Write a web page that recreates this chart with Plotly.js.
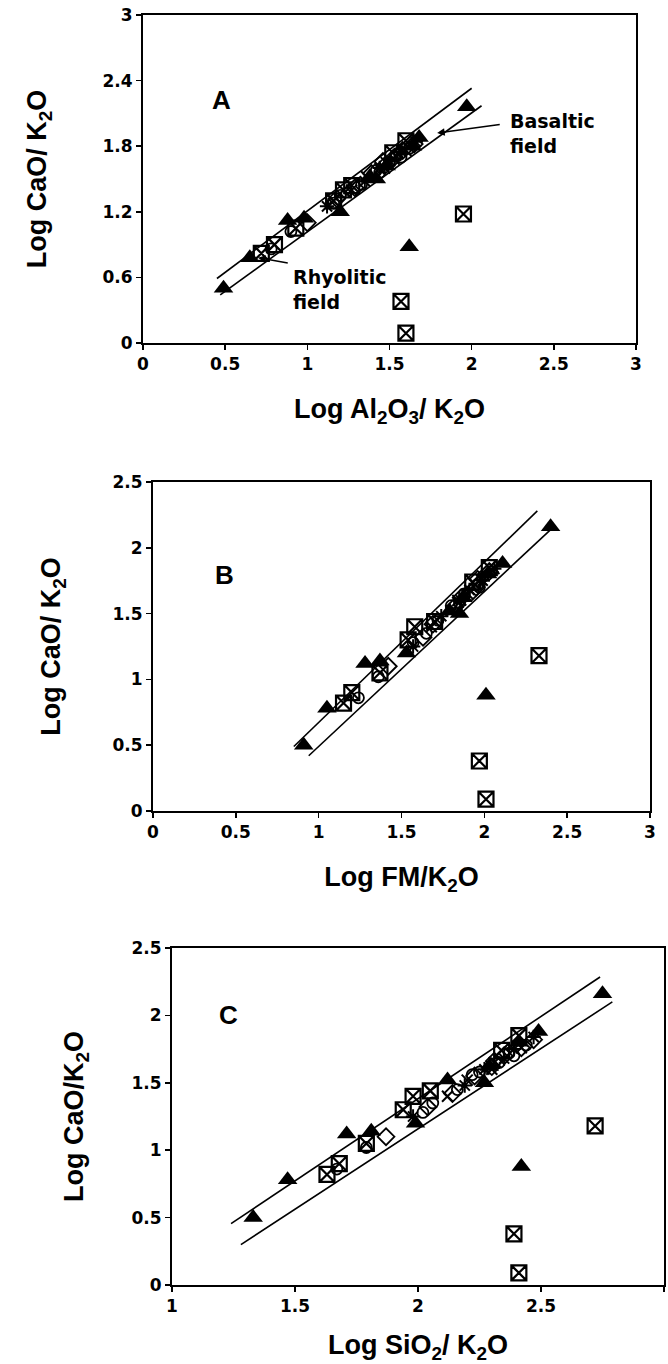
<!DOCTYPE html>
<html>
<head>
<meta charset="utf-8">
<script src="https://cdn.plot.ly/plotly-3.0.1.min.js"></script>
<style>html,body{margin:0;padding:0;background:#fff;}#chart{width:668px;height:1364px;}</style>
</head>
<body>
<div id="chart"></div>
<script>
// ---------- DATA ----------
// y values (Log CaO/K2O) are shared by the three panels; x differs per panel
// Filled triangles
const triY  = [0.50, 0.78, 1.12, 1.14, 1.20, 1.50, 1.52, 1.62, 1.80, 1.88, 2.16, 0.88];
const triXA = [0.49, 0.65, 0.88, 0.98, 1.20, 1.42, 1.38, 1.48, 1.64, 1.68, 1.97, 1.62];
const triXB = [0.91, 1.05, 1.28, 1.37, 1.53, 1.85, 1.79, 1.87, 2.02, 2.11, 2.40, 2.01];
const triXC = [1.33, 1.47, 1.71, 1.81, 1.99, 2.27, 2.12, 2.29, 2.41, 2.49, 2.75, 2.42];
// Boxed crosses
const sqY  = [0.82, 0.90, 1.05, 1.30, 1.40, 1.44, 1.74, 1.85, 1.18, 0.38, 0.09];
const sqXA = [0.72, 0.80, 0.93, 1.16, 1.22, 1.27, 1.52, 1.60, 1.95, 1.57, 1.60];
const sqXB = [1.15, 1.20, 1.37, 1.54, 1.58, 1.70, 1.93, 2.03, 2.33, 1.97, 2.01];
const sqXC = [1.63, 1.68, 1.79, 1.94, 1.98, 2.05, 2.34, 2.41, 2.72, 2.39, 2.41];
// Open circles
const circY  = [0.86, 1.02, 1.28, 1.35, 1.45, 1.58, 1.65, 1.72, 1.78, 1.56, 1.70];
const circXA = [0.78, 0.90, 1.16, 1.20, 1.33, 1.42, 1.50, 1.54, 1.62, 1.44, 1.57];
const circXB = [1.24, 1.36, 1.57, 1.65, 1.72, 1.85, 1.88, 1.96, 1.99, 1.80, 1.97];
const circXC = [1.67, 1.79, 2.02, 2.06, 2.16, 2.25, 2.33, 2.37, 2.44, 2.22, 2.39];
// Open diamonds
const diaY  = [1.10, 1.32, 1.42, 1.55, 1.62, 1.70, 1.82, 1.66, 1.76];
const diaXA = [1.00, 1.18, 1.29, 1.39, 1.47, 1.53, 1.65, 1.46, 1.58];
const diaXB = [1.42, 1.63, 1.69, 1.82, 1.86, 1.95, 2.03, 1.92, 1.96];
const diaXC = [1.87, 2.04, 2.14, 2.23, 2.30, 2.35, 2.47, 2.31, 2.42];
// Asterisks
const astY  = [1.25, 1.48, 1.60, 1.68, 1.75, 1.84];
const astXA = [1.12, 1.35, 1.44, 1.53, 1.57, 1.66];
const astXB = [1.57, 1.74, 1.86, 1.91, 1.99, 2.06];
const astXC = [1.98, 2.19, 2.27, 2.35, 2.39, 2.47];
// Crosses
const crsY  = [1.40, 1.52, 1.65, 1.76, 1.60];
const crsXA = [1.27, 1.36, 1.48, 1.60, 1.47];
const crsXB = [1.68, 1.80, 1.90, 1.98, 1.84];
const crsXC = [2.12, 2.20, 2.31, 2.42, 2.30];

// Field boundary lines [x0,x1], [y0,y1]
const upperA = {x: [0.45, 2.00], y: [0.59, 2.33]};
const lowerA = {x: [0.47, 2.06], y: [0.44, 2.17]};
const upperB = {x: [0.85, 2.32], y: [0.49, 2.28]};
const lowerB = {x: [0.94, 2.41], y: [0.42, 2.15]};
const upperC = {x: [1.24, 2.74], y: [0.455, 2.285]};
const lowerC = {x: [1.28, 2.79], y: [0.30, 2.10]};

// Tick labels
const xTicksAB = [0, 0.5, 1, 1.5, 2, 2.5, 3];
const xTicksC  = [1, 1.5, 2, 2.5, 3];
const yTicksA  = [0, 0.6, 1.2, 1.8, 2.4, 3];
const yTicksBC = [0, 0.5, 1, 1.5, 2, 2.5];

// Text labels
const panelLabels = ['A', 'B', 'C'];
const xTitles = ['Log Al<sub>2</sub>O<sub>3</sub>/ K<sub>2</sub>O', 'Log FM/K<sub>2</sub>O', 'Log SiO<sub>2</sub>/ K<sub>2</sub>O'];
const yTitles = ['Log CaO/ K<sub>2</sub>O', 'Log CaO/ K<sub>2</sub>O', 'Log CaO/K<sub>2</sub>O'];
const fieldLabels = ['Basaltic<br>field', 'Rhyolitic<br>field'];

// ---------- BUILD ----------
const panels = [
  {xa: 'x',  ya: 'y',  tri: triXA, sq: sqXA, circ: circXA, dia: diaXA, ast: astXA, crs: crsXA, up: upperA, lo: lowerA},
  {xa: 'x2', ya: 'y2', tri: triXB, sq: sqXB, circ: circXB, dia: diaXB, ast: astXB, crs: crsXB, up: upperB, lo: lowerB},
  {xa: 'x3', ya: 'y3', tri: triXC, sq: sqXC, circ: circXC, dia: diaXC, ast: astXC, crs: crsXC, up: upperC, lo: lowerC}
];

const traces = [];
panels.forEach(p => {
  const line = {color: '#000', width: 1.6};
  traces.push({x: p.up.x, y: p.up.y, xaxis: p.xa, yaxis: p.ya, mode: 'lines', line: line, hoverinfo: 'skip'});
  traces.push({x: p.lo.x, y: p.lo.y, xaxis: p.xa, yaxis: p.ya, mode: 'lines', line: line, hoverinfo: 'skip'});
  traces.push({x: p.circ, y: circY, xaxis: p.xa, yaxis: p.ya, mode: 'markers',
    marker: {symbol: 'circle-open', size: 11, color: '#000', line: {width: 1.8, color: '#000'}}});
  traces.push({x: p.dia, y: diaY, xaxis: p.xa, yaxis: p.ya, mode: 'markers',
    marker: {symbol: 'diamond-open', size: 13, color: '#000', line: {width: 1.8, color: '#000'}}});
  traces.push({x: p.ast, y: astY, xaxis: p.xa, yaxis: p.ya, mode: 'markers',
    marker: {symbol: 'asterisk-open', size: 12, color: '#000', line: {width: 2, color: '#000'}}});
  traces.push({x: p.crs, y: crsY, xaxis: p.xa, yaxis: p.ya, mode: 'markers',
    marker: {symbol: 'x-thin-open', size: 11, color: '#000', line: {width: 2, color: '#000'}}});
  traces.push({x: p.sq, y: sqY, xaxis: p.xa, yaxis: p.ya, mode: 'markers',
    marker: {symbol: 'square-x-open', size: 15, color: '#000', line: {width: 2.2, color: '#000'}}});
  traces.push({x: p.tri, y: triY, xaxis: p.xa, yaxis: p.ya, mode: 'markers',
    marker: {symbol: 'triangle-up', size: 17, color: '#000', line: {width: 0}}});
});

const tickFont = {family: 'DejaVu Sans, sans-serif', size: 17, color: '#000'};
const titleFont = {family: 'Liberation Sans, Arial, sans-serif', size: 27, color: '#000'};
const bold = arr => arr.map(v => '<b>' + v + '</b>');

function xAxis(domain, range, anchor, title, ticks, standoff) {
  return {domain: domain, range: range, anchor: anchor,
    tickmode: 'array', tickvals: ticks, ticktext: bold(ticks),
    showline: true, mirror: true, linecolor: '#000', linewidth: 2,
    ticks: 'outside', ticklen: 5, tickwidth: 1.5, tickcolor: '#000',
    showgrid: false, zeroline: false, tickfont: tickFont, automargin: false,
    title: {text: '<b>' + title + '</b>', font: titleFont, standoff: standoff}};
}
function yAxis(domain, range, anchor, title, ticks, standoff) {
  return {domain: domain, range: range, anchor: anchor,
    tickmode: 'array', tickvals: ticks, ticktext: bold(ticks),
    showline: true, mirror: true, linecolor: '#000', linewidth: 2,
    ticks: 'outside', ticklen: 5, tickwidth: 1.5, tickcolor: '#000',
    showgrid: false, zeroline: false, tickfont: tickFont, automargin: false,
    title: {text: '<b>' + title + '</b>', font: titleFont, standoff: standoff}};
}

const W = 668, H = 1364;
const labelFont = {family: 'Liberation Sans, Arial, sans-serif', size: 26, color: '#000'};
const fieldFont = {family: 'DejaVu Sans, sans-serif', size: 19, color: '#000'};
const layout = {
  width: W, height: H, margin: {l: 0, r: 0, t: 0, b: 0},
  paper_bgcolor: '#fff', plot_bgcolor: '#fff', showlegend: false,
  xaxis:  xAxis([143 / W, 636 / W], [0, 3], 'y',  xTitles[0], xTicksAB, 26),
  yaxis:  yAxis([1 - 343 / H, 1 - 15 / H], [0, 3], 'x', yTitles[0], yTicksA, 48),
  xaxis2: xAxis([153 / W, 650 / W], [0, 3], 'y2', xTitles[1], xTicksAB, 26),
  yaxis2: yAxis([1 - 811 / H, 1 - 482 / H], [0, 2.5], 'x2', yTitles[1], yTicksBC, 44),
  xaxis3: xAxis([172 / W, 664 / W], [1, 3], 'y3', xTitles[2], xTicksC, 22),
  yaxis3: yAxis([1 - 1285 / H, 1 - 948 / H], [0, 2.5], 'x3', yTitles[2], yTicksBC, 40),
  annotations: [
    {xref: 'x',  yref: 'y',  x: 0.48, y: 2.22, text: '<b>' + panelLabels[0] + '</b>', showarrow: false, font: labelFont},
    {xref: 'x2', yref: 'y2', x: 0.43, y: 1.79, text: '<b>' + panelLabels[1] + '</b>', showarrow: false, font: labelFont},
    {xref: 'x3', yref: 'y3', x: 1.23, y: 2.00, text: '<b>' + panelLabels[2] + '</b>', showarrow: false, font: labelFont},
    {xref: 'x', yref: 'y', x: 2.22, y: 1.92, xanchor: 'left', align: 'left', text: '<b>' + fieldLabels[0] + '</b>', showarrow: false, font: fieldFont},
    {xref: 'x', yref: 'y', x: 0.90, y: 0.485, xanchor: 'left', align: 'left', text: '<b>' + fieldLabels[1] + '</b>', showarrow: false, font: fieldFont},
    // leader lines
    {xref: 'x', yref: 'y', axref: 'x', ayref: 'y', x: 1.79, y: 1.92, ax: 2.18, ay: 2.00, text: '',
     showarrow: true, arrowhead: 2, arrowsize: 1, arrowwidth: 1.5, arrowcolor: '#000'},
    {xref: 'x', yref: 'y', axref: 'x', ayref: 'y', x: 0.70, y: 0.78, ax: 0.89, ay: 0.73, text: '',
     showarrow: true, arrowhead: 2, arrowsize: 1, arrowwidth: 1.5, arrowcolor: '#000'}
  ]
};

Plotly.newPlot('chart', traces, layout, {staticPlot: true, displayModeBar: false});
</script>
</body>
</html>
